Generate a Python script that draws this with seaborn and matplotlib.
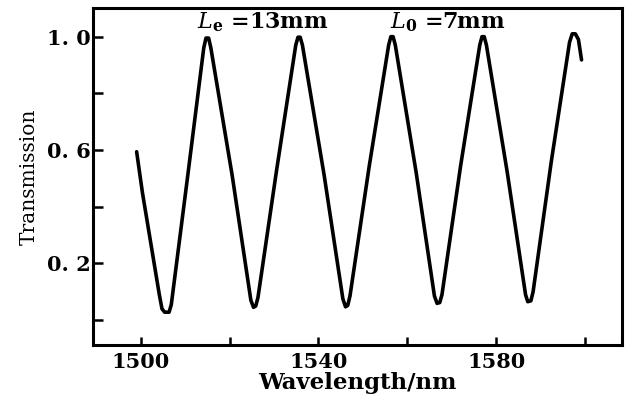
import matplotlib
matplotlib.use("Agg")
import matplotlib.pyplot as plt
import seaborn as sns
import pandas as pd

wavelength = [
    1499.1, 1500.4, 1504.2, 1504.8, 1505.4, 1506.4, 1506.9, 1510.6,
    1514.2, 1514.7, 1515.3, 1515.8, 1520.6, 1524.8, 1525.4,
    1525.9, 1526.4, 1530.6, 1534.9, 1535.4, 1535.9, 1536.4,
    1541.3, 1545.5, 1546.1, 1546.6, 1547.1, 1551.4, 1555.8,
    1556.3, 1556.8, 1557.3, 1562.0, 1566.1, 1566.7, 1567.3, 1567.8,
    1572.0, 1576.3, 1576.8, 1577.3, 1577.8, 1582.5,
    1586.6, 1587.1, 1587.8, 1588.3, 1592.4, 1596.5, 1597.1, 1597.8,
    1598.5, 1599.2,
]
transmission = [
    0.594, 0.45, 0.09, 0.040, 0.028, 0.028, 0.055, 0.51,
    0.96, 0.995, 0.995, 0.96, 0.51, 0.07, 0.045,
    0.050, 0.08, 0.53, 0.97, 0.998, 0.998, 0.97,
    0.51, 0.075, 0.047, 0.052, 0.085, 0.54, 0.97,
    1.0, 1.0, 0.97, 0.52, 0.085, 0.059, 0.062, 0.09,
    0.545, 0.97, 1.0, 1.0, 0.97, 0.52,
    0.09, 0.065, 0.068, 0.10, 0.56, 0.98, 1.01, 1.01,
    0.99, 0.918,
]
x_ticks = [1500, 1520, 1540, 1560, 1580, 1600]
x_labels = ["1500", "", "1540", "", "1580", ""]
y_ticks = [0.0, 0.2, 0.4, 0.6, 0.8, 1.0]
y_labels = ["", "0. 2", "", "0. 6", "", "1. 0"]
annotations = [r"$\mathbf{\mathit{L}_{e}}$ =13mm", r"$\mathbf{\mathit{L}_{0}}$ =7mm"]
annot_x = [1527.5, 1569.0]
annot_y = [1.052, 1.052]

sns.set_theme(style="ticks")
plt.rcParams["font.family"] = ["DejaVu Serif"]
plt.rcParams["mathtext.fontset"] = "dejavuserif"
plt.rcParams["text.color"] = "black"
plt.rcParams["axes.labelcolor"] = "black"

fig = plt.figure(figsize=(6.33, 4.05), dpi=100)
ax = fig.add_axes([0.1474, 0.148, 0.9826 - 0.1474, 0.9795 - 0.148])

df = pd.DataFrame({"Wavelength": wavelength, "Transmission": transmission})
sns.lineplot(data=df, x="Wavelength", y="Transmission", ax=ax, color="black",
             linewidth=2.6, estimator=None, sort=False)

ax.set_xlim(1489.35, 1608.3)
ax.set_ylim(-0.088, 1.10)
ax.set_xticks(x_ticks)
ax.set_xticklabels(x_labels)
ax.set_yticks(y_ticks)
ax.set_yticklabels(y_labels)
ax.tick_params(direction="in", length=6, width=1.8, colors="black", labelsize=15, pad=5)
ax.tick_params(axis="y", pad=2, length=7)
for lab in ax.get_xticklabels() + ax.get_yticklabels():
    lab.set_fontweight("bold")
for s in ax.spines.values():
    s.set_linewidth(2.2)
    s.set_color("black")

ax.set_xlabel("Wavelength/nm", fontsize=16.5, fontweight="bold", labelpad=0)
ax.set_ylabel("Transmission", fontsize=14.5, labelpad=6)

for t, x, y in zip(annotations, annot_x, annot_y):
    ax.text(x, y, t, ha="center", va="center", fontsize=16, fontweight="bold")

fig.savefig("out.png", dpi=100)
